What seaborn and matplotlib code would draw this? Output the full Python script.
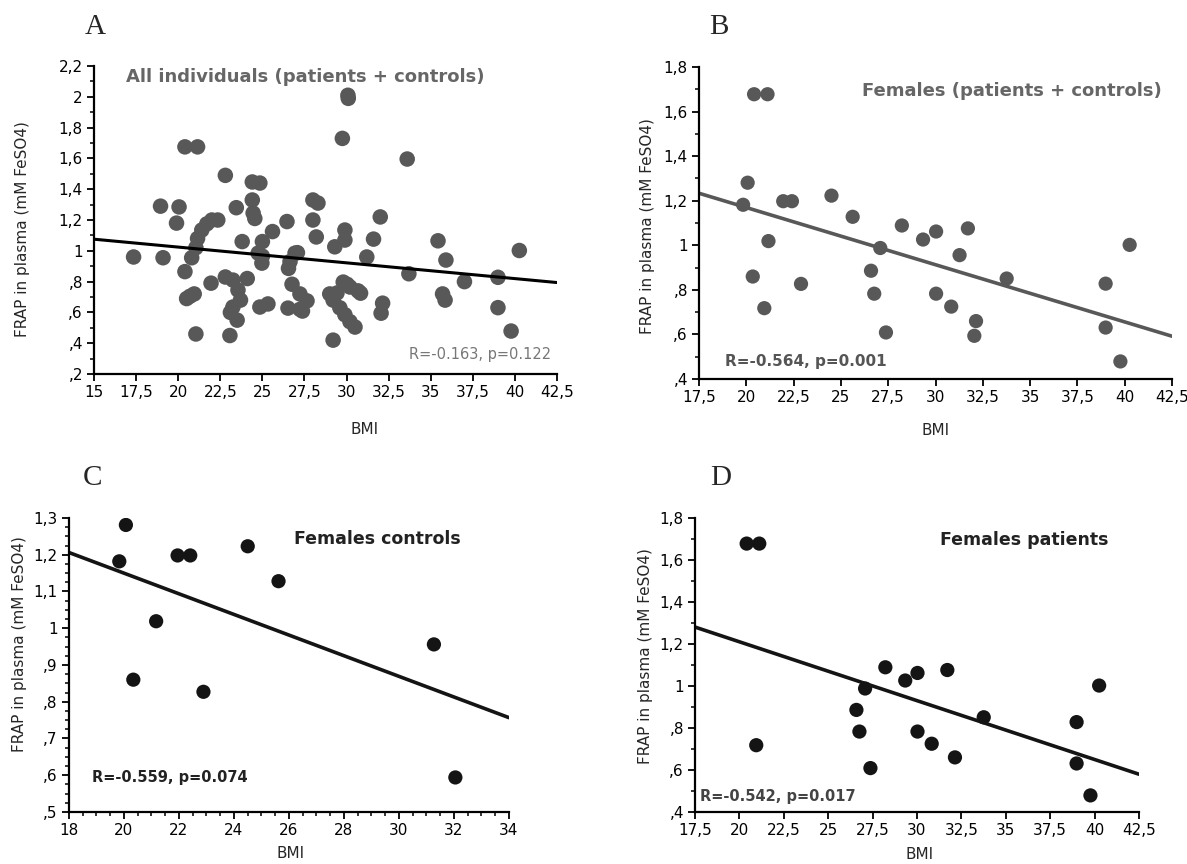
import matplotlib
matplotlib.use("Agg")
import numpy as np
import pandas as pd
import matplotlib.pyplot as plt
import seaborn as sns
from matplotlib.ticker import FuncFormatter, MultipleLocator

# A - all individuals (patients + controls)
bmi_all = [17.35, 18.95, 19.1, 19.9, 20.05, 20.4, 20.4, 21.15, 20.5, 20.7, 20.95, 20.8,
           21.05, 21.05, 21.15, 21.4, 21.7, 22.0, 22.35, 21.95, 22.8, 22.8, 23.25, 23.1,
           23.07, 23.45, 23.55, 23.5, 23.7, 23.8, 23.25, 24.1, 24.4, 24.4, 24.45, 24.55,
           24.85, 25.0, 24.75, 24.97, 25.0, 24.85, 25.33, 25.6, 26.46, 26.52, 26.55, 26.64,
           26.76, 26.94, 27.08, 27.38, 27.23, 27.23, 27.65, 28.0, 28.3, 28.0, 28.2, 29.2,
           29.0, 29.3, 29.2, 29.75, 30.08, 30.1, 29.9, 29.9, 29.8, 30.2, 30.68, 29.43,
           29.6, 29.9, 30.2, 30.5, 30.03, 30.83, 31.2, 31.6, 32.0, 32.14, 32.05, 33.6,
           33.7, 35.43, 35.7, 35.9, 35.85, 37.0, 38.99, 38.99, 39.77, 40.26]
frap_all = [0.96, 1.29, 0.955, 1.18, 1.285, 0.865, 1.675, 1.675, 0.69, 0.705, 0.72, 0.955,
            0.46, 1.02, 1.08, 1.135, 1.175, 1.2, 1.2, 0.79, 1.49, 0.83, 0.81, 0.6,
            0.45, 1.28, 0.745, 0.55, 0.68, 1.06, 0.635, 0.82, 1.447, 1.33, 1.245, 1.21,
            1.44, 1.06, 0.985, 0.92, 0.965, 0.635, 0.655, 1.125, 1.19, 0.628, 0.886, 0.93,
            0.783, 0.985, 0.988, 0.609, 0.72, 0.62, 0.675, 1.33, 1.31, 1.2, 1.09, 0.42,
            0.72, 1.026, 0.68, 1.73, 2.01, 1.99, 1.135, 1.07, 0.797, 0.765, 0.74, 0.726,
            0.63, 0.585, 0.54, 0.505, 0.783, 0.725, 0.96, 1.076, 1.22, 0.66, 0.595, 1.596,
            0.851, 1.065, 0.72, 0.94, 0.68, 0.80, 0.828, 0.631, 0.479, 1.002]

# C - female controls
bmi_fc = [19.83, 20.07, 20.34, 21.17, 21.95, 22.41, 22.89, 24.50, 25.62, 31.27, 32.05]
frap_fc = [1.182, 1.281, 0.860, 1.019, 1.198, 1.198, 0.827, 1.223, 1.128, 0.956, 0.594]

# D - female patients
bmi_fp = [20.41, 21.12, 20.95, 26.59, 26.76, 27.08, 27.38, 28.22, 29.34, 30.03,
          30.03, 30.83, 31.71, 32.14, 33.76, 38.99, 38.99, 39.77, 40.26]
frap_fp = [1.678, 1.678, 0.718, 0.886, 0.783, 0.988, 0.609, 1.089, 1.026, 1.062,
           0.783, 0.725, 1.076, 0.660, 0.851, 0.828, 0.631, 0.479, 1.002]

# B - all females = controls + patients
bmi_f = bmi_fc + bmi_fp
frap_f = frap_fc + frap_fp

sns.set_style("ticks")
plt.rcParams["font.family"] = ["DejaVu Sans"]


def comma_fmt(v, pos):
    s = f"{v:.3f}".rstrip("0").rstrip(".")
    if s.startswith("0."):
        s = s[1:]
    return s.replace(".", ",")


def panel(ax, x, y, xlim, ylim, xstep, ystep, xminor, yminor, dot, line, size, lw):
    df = pd.DataFrame({"BMI": x, "FRAP": y})
    ax.set_xlim(xlim)
    ax.set_ylim(ylim)
    sns.regplot(data=df, x="BMI", y="FRAP", ax=ax, ci=None, truncate=False,
                scatter_kws={"s": size, "color": dot, "edgecolor": "none", "alpha": 1},
                line_kws={"color": line, "lw": lw})
    ax.set_xlim(xlim)
    ax.set_ylim(ylim)
    ax.xaxis.set_major_locator(MultipleLocator(xstep))
    ax.yaxis.set_major_locator(MultipleLocator(ystep))
    if xminor:
        ax.xaxis.set_minor_locator(MultipleLocator(xminor))
    ax.yaxis.set_minor_locator(MultipleLocator(yminor))
    ax.xaxis.set_major_formatter(FuncFormatter(comma_fmt))
    ax.yaxis.set_major_formatter(FuncFormatter(comma_fmt))
    for side in ["top", "right"]:
        ax.spines[side].set_visible(False)
    for side in ["left", "bottom"]:
        ax.spines[side].set_linewidth(1.6)
        ax.spines[side].set_color("black")
    ax.tick_params(which="major", direction="out", length=5, width=1.3,
                   labelsize=11, colors="black", pad=3)
    ax.tick_params(which="minor", direction="out", length=3, width=1.1, colors="black")
    ax.set_xlabel("BMI", fontsize=11)
    ax.set_ylabel("FRAP in plasma (mM FeSO4)", fontsize=11)


fig = plt.figure(figsize=(11.87, 8.64), dpi=100)
axA = fig.add_axes([0.0792, 0.5671, 0.3901, 0.3565])
axB = fig.add_axes([0.5889, 0.5613, 0.3985, 0.3611])
axC = fig.add_axes([0.0581, 0.0602, 0.3707, 0.3403])
axD = fig.add_axes([0.5855, 0.0602, 0.3740, 0.3403])

panel(axA, bmi_all, frap_all, (15, 42.5), (0.2, 2.2), 2.5, 0.2, None, 0.1,
      "#585858", "black", 125, 2.2)
panel(axB, bmi_f, frap_f, (17.5, 42.5), (0.4, 1.8), 2.5, 0.2, None, 0.1,
      "#585858", "#585858", 105, 2.6)
panel(axC, bmi_fc, frap_fc, (18, 34), (0.5, 1.3), 2, 0.1, 0.5, 0.025,
      "#141414", "#141414", 105, 2.6)
panel(axD, bmi_fp, frap_fp, (17.5, 42.5), (0.4, 1.8), 2.5, 0.2, None, 0.1,
      "#141414", "#141414", 105, 2.6)

# label placement
axA.yaxis.set_label_coords(-0.138, 0.47)
axB.yaxis.set_label_coords(-0.093, 0.49)
axC.yaxis.set_label_coords(-0.095, 0.57)
axD.yaxis.set_label_coords(-0.094, 0.53)
axA.xaxis.set_label_coords(0.585, -0.155)
axB.xaxis.set_label_coords(0.5, -0.14)
axC.xaxis.set_label_coords(0.504, -0.115)
axD.xaxis.set_label_coords(0.505, -0.118)

# panel titles and statistics
axA.text(0.069, 0.964, "All individuals (patients + controls)", transform=axA.transAxes,
         fontsize=13, fontweight="bold", color="#666666", va="center")
axA.text(0.988, 0.065, "R=-0.163, p=0.122", transform=axA.transAxes,
         fontsize=10.5, color="#777777", ha="right", va="center")
axB.text(0.344, 0.923, "Females (patients + controls)", transform=axB.transAxes,
         fontsize=13, fontweight="bold", color="#666666", va="center")
axB.text(0.055, 0.056, "R=-0.564, p=0.001", transform=axB.transAxes,
         fontsize=11, fontweight="bold", color="#555555", va="center")
axC.text(0.511, 0.93, "Females controls", transform=axC.transAxes,
         fontsize=12.5, fontweight="bold", color="#222222", va="center")
axC.text(0.053, 0.118, "R=-0.559, p=0.074", transform=axC.transAxes,
         fontsize=10.5, fontweight="bold", color="#222222", va="center")
axD.text(0.553, 0.924, "Females patients", transform=axD.transAxes,
         fontsize=12.5, fontweight="bold", color="#222222", va="center")
axD.text(0.012, 0.053, "R=-0.542, p=0.017", transform=axD.transAxes,
         fontsize=10.5, fontweight="bold", color="#444444", va="center")

# panel letters
for letter, (px, py) in {"A": (95, 27), "B": (719, 27), "C": (93, 478), "D": (721, 478)}.items():
    fig.text(px / 1187, 1 - py / 864, letter, fontsize=21, ha="center", va="center",
             family=["Liberation Serif", "DejaVu Serif"])

fig.savefig("out.png", dpi=100)
